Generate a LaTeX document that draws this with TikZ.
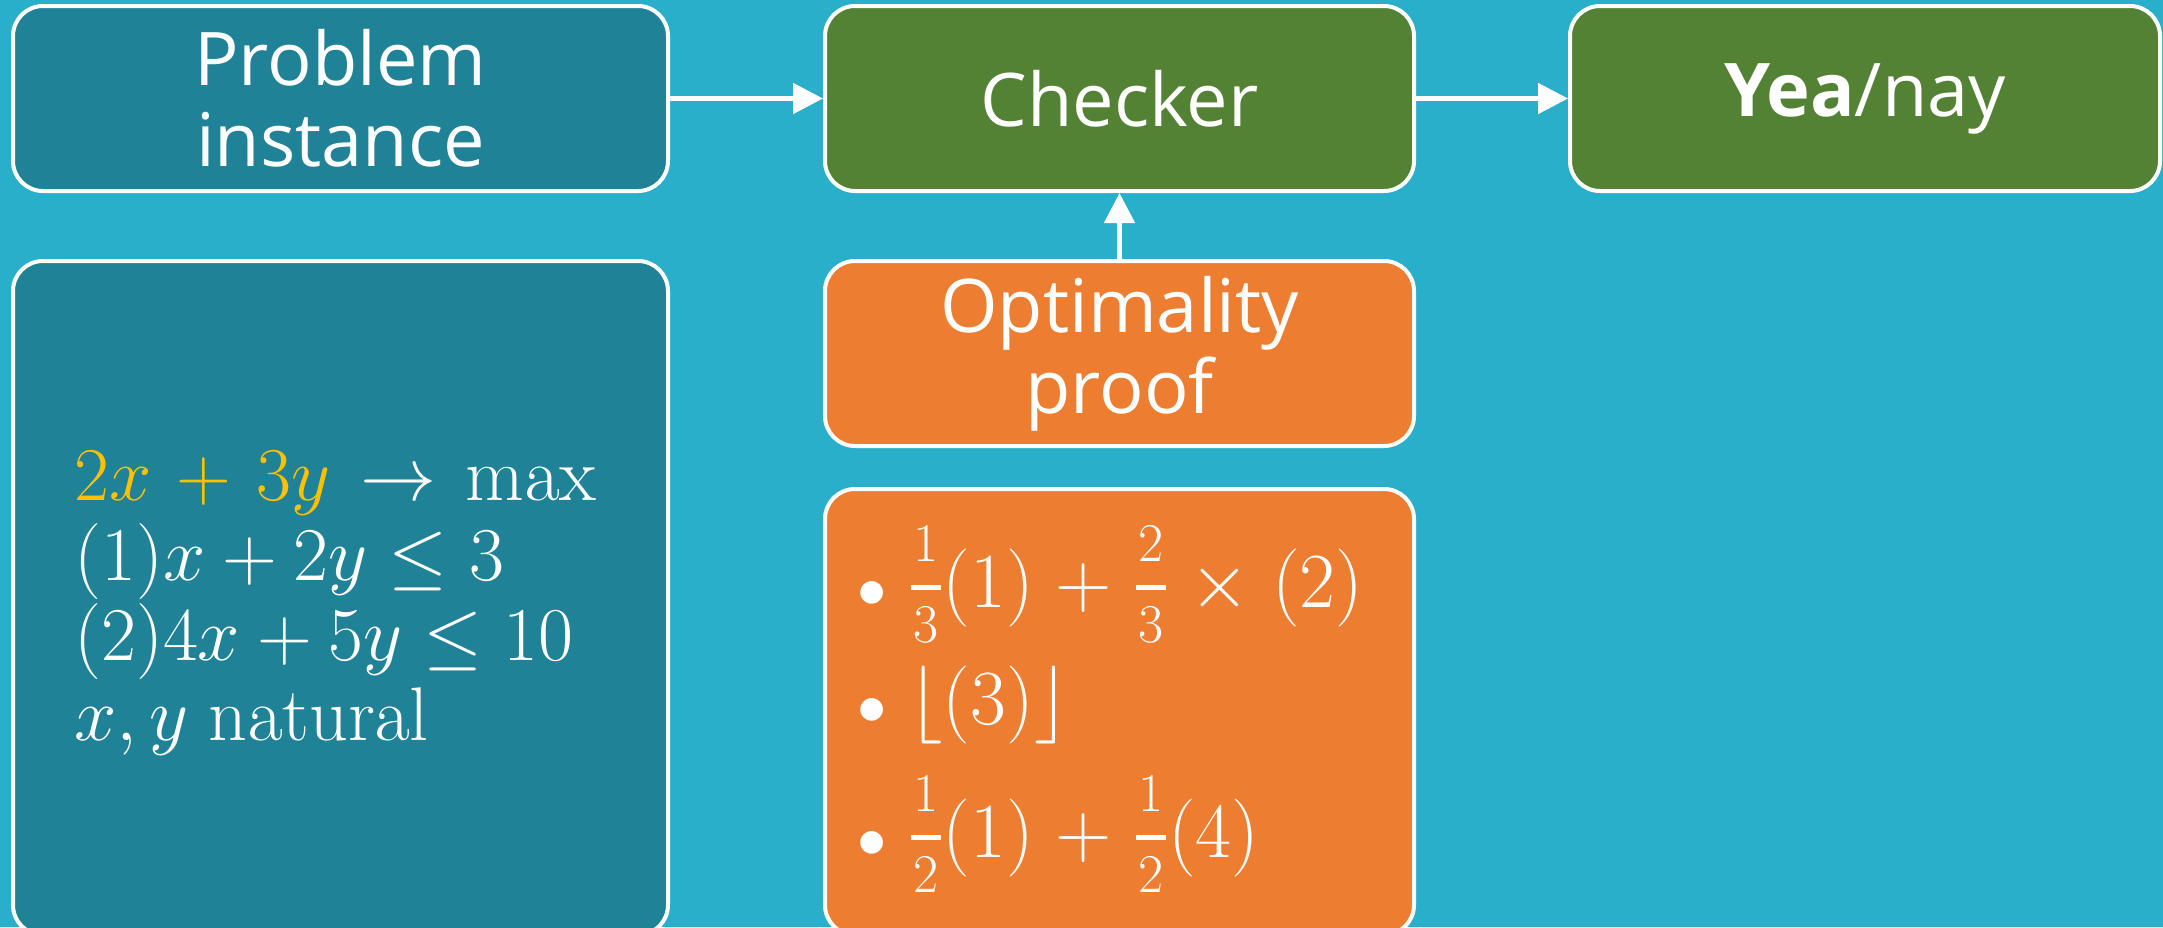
\RequirePackage{fix-cm}
\documentclass[tikz,border=0pt]{standalone}
\usepackage{amsmath}
\usepackage[no-math]{fontspec}
\setmainfont{Open Sans}
\usetikzlibrary{arrows.meta}
\definecolor{bgblue}{RGB}{41,175,202}
\definecolor{darkteal}{RGB}{31,130,150}
\definecolor{boxgreen}{RGB}{84,130,53}
\definecolor{boxorange}{RGB}{237,125,49}
\definecolor{goldy}{RGB}{255,192,0}
\newcommand\myfrac[2]{\genfrac{}{}{2.4pt}{1}{\rule[-9.5pt]{0pt}{9.5pt}\kern1.2pt#1\kern1.2pt}{\rule{0pt}{24pt}\kern1.2pt#2\kern1.2pt}}
\newcommand\mybul{\mathord{\scalebox{0.75}{$\bullet$}}}
\begin{document}
\begin{tikzpicture}[x=0.5pt,y=-0.5pt,
  box/.style={draw=white,line width=2pt,rounded corners=15pt,inner sep=0pt,text=white,align=center,
    font=\fontsize{37}{40.5}\selectfont},
  wide/.style={minimum width=327.5pt},
  mid/.style={minimum width=294.5pt},
  short/.style={minimum height=92.5pt},
  link/.style={draw=white,line width=2.5pt,-{Triangle[length=15pt,width=15pt]}},
  mathtxt/.style={text=white,inner sep=0pt,align=left,font=\fontsize{38}{40}\selectfont},
  listtxt/.style={text=white,inner sep=0pt,anchor=base west,font=\fontsize{39}{44}\selectfont}]
\useasboundingbox (0,0) rectangle (2163,927);
\fill[bgblue] (0,0) rectangle (2163,927);

\node[box,wide,short,fill=darkteal] (prob) at (340.5,98.5) {Problem\\instance};
\node[box,mid,short,fill=boxgreen] (check) at (1119.5,98.5) {Checker};
\node[box,mid,short,fill=boxgreen,minimum width=295pt] (yea) at (1865,98.5) {\textbf{Yea}/nay};
\node[box,wide,minimum height=337pt,fill=darkteal] (inst) at (340.5,598) {};
\node[box,mid,short,fill=boxorange] (proof) at (1119.5,353.5) {Optimality\\proof};
\node[box,mid,minimum height=223pt,fill=boxorange] (list) at (1119.5,712) {};

\node[mathtxt,anchor=west] (lp) at (74,603) {\medmuskip=6mu plus 2mu\thickmuskip=7mu plus 3mu%
$\color{goldy}2x+3y\color{white}\rightarrow\mathrm{max}$\\
$(1)x+2y\leq 3$\\
$(2)4x+5y\leq 10$\\
$x,y\ \mathrm{natural}$};

\node[listtxt] (l1) at (857,607) {$\medmuskip=5mu\mybul\;\myfrac{1}{3}(1)+\myfrac{2}{3}\times(2)$};
\node[listtxt] (l2) at (857,724) {$\mybul\;\lfloor(3)\rfloor$};
\node[listtxt] (l3) at (857,857) {$\medmuskip=5mu\mybul\;\myfrac{1}{2}(1)+\myfrac{1}{2}(4)$};

\draw[link] (prob.east) -- (check.west);
\draw[link] (check.east) -- (yea.west);
\draw[link] (proof.north) -- (check.south);
\end{tikzpicture}
\end{document}
